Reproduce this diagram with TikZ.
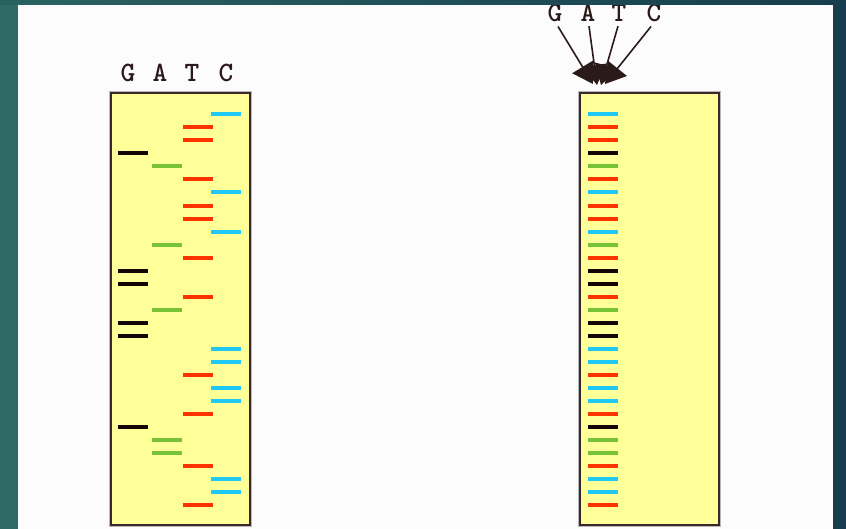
\documentclass[tikz,border=0pt]{standalone}
\usetikzlibrary{arrows.meta,positioning}

\definecolor{slideL}{HTML}{2F6B66}
\definecolor{slideR}{HTML}{163E4E}
\definecolor{gelfill}{HTML}{FFFF99}
\definecolor{gelline}{HTML}{3A2828}
\definecolor{ink}{HTML}{2A1A1A}
\definecolor{bandG}{HTML}{140404}
\definecolor{bandA}{HTML}{77C236}
\definecolor{bandT}{HTML}{FF3300}
\definecolor{bandC}{HTML}{1FC8F5}

% start of each lane in the left gel
\def\laneG{118}
\def\laneA{152}
\def\laneT{183}
\def\laneC{211}

\tikzset{
  gel/.style={draw=gelline, line width=2pt, fill=gelfill,
    preaction={draw=gray!55, line width=3.5pt},
    minimum width=139pt, minimum height=432pt, anchor=north west, inner sep=0pt},
  band/.style={line width=4pt},
  lane/.style={font=\ttfamily\bfseries\fontsize{28}{28}\selectfont, text=ink, inner sep=0pt, anchor=base},
  feed/.style={line width=1.6pt, draw=ink, -{Triangle[length=20pt,width=24pt,fill=ink]}}
}

\begin{document}
\begin{tikzpicture}[x=1pt,y=-1pt]
\useasboundingbox (0,0) rectangle (846,529);

% slide and white panel
\shade[left color=slideL, right color=slideR] (0,0) rectangle (846,529);
\fill[white!99!black] (18,5) rectangle (833,529);

% the two gels
\node[gel] (gelL) at (110,92) {};
\node[gel] (gelR) at (579,92) {};

% lane letters over the left gel
\node[lane] (gL) at (128,82) {G};
\node[lane] (aL) at (160,82) {A};
\node[lane] (tL) at (192,82) {T};
\node[lane] (cL) at (226,82) {C};

% all four reactions loaded in one lane
\node[lane] (gR) at (555,22) {G};
\node[lane] (aR) at (588,22) {A};
\node[lane] (tR) at (619,22) {T};
\node[lane] (cR) at (654,22) {C};
\coordinate (inG) at (593,84);
\coordinate (inA) at (597,85);
\coordinate (inT) at (601,85);
\coordinate (inC) at (605,84);
\draw[feed] (gR.south) ++(3,4) -- (inG);
\draw[feed] (aR.south) ++(1,4) -- (inA);
\draw[feed] (tR.south) ++(-1,4) -- (inT);
\draw[feed] (cR.south) ++(-3,4) -- (inC);

% bands, top to bottom
\foreach \b [count=\i from 0] in {C,T,T,G,A,T,C,T,T,C,A,T,G,G,T,A,
                                  G,G,C,C,T,C,C,T,G,A,A,T,C,C,T}{
  \pgfmathsetmacro\y{114.3+13.03*\i}
  \edef\x{\csname lane\b\endcsname}
  \draw[band, draw=band\b] (\x,\y) -- ++(30,0);
  \draw[band, draw=band\b] (588,\y) -- ++(30,0);
}

% top edge of the slide
\shade[left color=slideL!80!slideR, right color=slideR] (0,0) rectangle (846,5);
\end{tikzpicture}
\end{document}
